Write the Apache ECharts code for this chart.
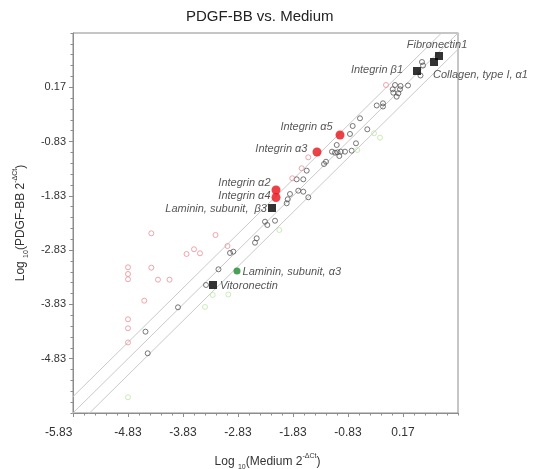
<!DOCTYPE html>
<html>
<head>
<meta charset="utf-8">
<script src="https://cdn.jsdelivr.net/npm/echarts@6/dist/echarts.min.js"></script>
<style>
  html, body { margin: 0; padding: 0; background: #fff; }
  #chart { width: 541px; height: 469px; }
</style>
</head>
<body>
<div id="chart"></div>
<script>
// axis ticks (log10 2^-dCt)
const axisMin = -5.83;
const axisMax = 1.17;
const tickValues = [-4.83, -3.83, -2.83, -1.83, -0.83, 0.17];
const foldLine = 0.301; // log10(2) boundaries

// open gray circles: no change
const unchangedPoints = [
  [0.515, 0.636], [0.534, 0.571], [0.488, 0.387], [0.025, 0.212], [0.125, 0.194],
  [0.261, 0.203], [-0.017, 0.133], [0.115, 0.133], [-0.006, 0.070], [0.085, 0.059],
  [0.055, -0.003], [-0.194, -0.125], [-0.308, -0.165], [-0.194, -0.184], [-0.612, -0.401],
  [-0.745, -0.543], [-0.479, -0.604], [-0.794, -0.690], [-0.685, -0.862], [-1.035, -0.893],
  [-1.121, -1.016], [-1.066, -1.035], [-1.021, -1.028], [-0.963, -1.016], [-0.885, -1.016],
  [-0.763, -0.998], [-0.988, -1.096], [-1.230, -1.201], [-1.266, -1.243], [-1.581, -1.366],
  [-1.643, -1.525], [-1.763, -1.525], [-1.885, -1.796], [-1.734, -1.735], [-1.643, -1.753],
  [-1.552, -1.856], [-1.926, -1.893], [-1.945, -1.967], [-2.157, -2.288], [-2.339, -2.306],
  [-2.297, -2.367], [-2.490, -2.612], [-2.521, -2.693], [-2.915, -2.858], [-2.975, -2.882],
  [-3.185, -3.183], [-3.412, -3.472], [-3.921, -3.883], [-4.512, -4.332], [-4.472, -4.730]
];

// open pink circles: up-regulated, unlabelled
const upPoints = [
  [-0.139, 0.212], [-1.552, -1.120], [-1.672, -1.322], [-1.843, -1.506], [-4.406, -2.520],
  [-3.239, -2.551], [-3.021, -2.754], [-3.630, -2.814], [-3.521, -2.888], [-3.766, -2.901],
  [-4.83, -3.146], [-4.83, -3.269], [-4.83, -3.367], [-4.406, -3.153], [-4.285, -3.374],
  [-4.075, -3.374], [-4.534, -3.761], [-4.83, -4.104], [-4.83, -4.269], [-4.83, -4.531]
];

// open light green circles: down-regulated, unlabelled
const downPoints = [
  [-0.661, -0.985], [-0.357, -0.677], [-0.248, -0.759], [-2.079, -2.459], [-3.290, -3.656],
  [-3.006, -3.647], [-3.430, -3.877], [-4.83, -5.540]
];

// labelled genes
const upGenes = ['Integrin α5', 'Integrin α3', 'Integrin α2', 'Integrin α4'];
const upValues = [[-0.975, -0.709], [-1.394, -1.022], [-2.139, -1.722], [-2.139, -1.860]];

const downGenes = ['Laminin, subunit, α3'];
const downValues = [[-2.848, -3.214]];

const keyGenes = ['Fibronectin1', 'Collagen, type I, α1', 'Integrin β1', 'Laminin, subunit,  β3', 'Vitoronectin'];
const keyValues = [[0.825, 0.746], [0.734, 0.636], [0.425, 0.470], [-2.212, -2.054], [-3.285, -3.472]];

const FONT = '"Liberation Sans", Arial, sans-serif';

// label placement per gene
const labelPlace = {
  'Integrin α5': { position: 'left', distance: 3, offset: [0, -8] },
  'Integrin α3': { position: 'left', distance: 5, offset: [0, -3] },
  'Integrin α2': { position: 'left', distance: 1, offset: [0, -7] },
  'Integrin α4': { position: 'left', distance: 1, offset: [0, -2] },
  'Laminin, subunit, α3': { position: 'right', distance: 2, offset: [0, 1] },
  'Fibronectin1': { position: 'top', distance: 2, offset: [-2, 0] },
  'Collagen, type I, α1': { position: 'right', distance: 5, offset: [-10, 13] },
  'Integrin β1': { position: 'left', distance: 10, offset: [0, -1] },
  'Laminin, subunit,  β3': { position: 'left', distance: 1, offset: [0, 1] },
  'Vitoronectin': { position: 'right', distance: 3, offset: [0, 1] }
};

const withLabels = (names, values) => names.map((n, i) => ({
  name: n,
  value: values[i],
  label: Object.assign({
    show: true,
    formatter: '{b}',
    fontStyle: 'italic',
    fontSize: 11,
    color: '#2a2a2a',
    fontFamily: FONT
  }, labelPlace[n])
}));

// minor ticks every 0.2
const minorTicks = [];
for (let v = axisMin; v <= axisMax + 1e-6; v += 0.2) minorTicks.push(+v.toFixed(2));

const refLine = (d) => ({
  type: 'line',
  data: [[axisMin - 1, axisMin - 1 + d], [axisMax + 1, axisMax + 1 + d]],
  symbol: 'none',
  silent: true,
  z: 1,
  lineStyle: { color: '#c9c9c9', width: 1 },
  clip: true
});

const chart = echarts.init(document.getElementById('chart'));

const axisNameRich = {
  a: { fontSize: 12, color: '#333', fontFamily: FONT, lineHeight: 18 },
  s: { fontSize: 7, color: '#333', fontFamily: FONT, verticalAlign: 'bottom', lineHeight: 18 },
  p: { fontSize: 7, color: '#333', fontFamily: FONT, verticalAlign: 'top', lineHeight: 18 }
};

const fmt = (v) => (+v).toFixed(2);
const AXIS_GRAY = '#8c8c8c';

const option = {
  animation: false,
  backgroundColor: '#fff',
  title: {
    text: 'PDGF-BB vs. Medium',
    left: 181,
    top: 4,
    textStyle: { fontSize: 15, fontWeight: 'normal', color: '#222', fontFamily: FONT }
  },
  grid: {
    left: 73, top: 33, width: 385, height: 380,
    outerBoundsMode: 'none',
    containLabel: false,
    show: true, borderColor: AXIS_GRAY, borderWidth: 1
  },
  xAxis: [
    {
      type: 'value',
      min: axisMin, max: axisMax,
      position: 'bottom',
      name: '{a|Log }{s|10}{a|(Medium 2}{p|-ΔCt}{a|)}',
      nameLocation: 'middle',
      nameGap: 40,
      nameTextStyle: { rich: axisNameRich, padding: [0, 0, 0, 4] },
      axisLine: { onZero: false, lineStyle: { color: AXIS_GRAY } },
      axisTick: { customValues: [axisMin].concat(tickValues), length: 4, lineStyle: { color: AXIS_GRAY } },
      axisLabel: {
        customValues: [axisMin].concat(tickValues),
        margin: 14,
        fontSize: 12,
        color: '#333',
        fontFamily: FONT,
        formatter: (v) => Math.abs(v - axisMin) < 1e-6 ? '{c|' + fmt(v) + '}' : fmt(v),
        rich: { c: { width: 56, align: 'left', fontSize: 12, color: '#333', fontFamily: FONT, padding: [0, 0, 3, 0] } }
      },
      splitLine: { show: false }
    },
    {
      type: 'value',
      min: axisMin, max: axisMax,
      position: 'bottom',
      axisLine: { show: false, onZero: false },
      axisTick: { customValues: minorTicks, length: 2.5, lineStyle: { color: AXIS_GRAY } },
      axisLabel: { show: false },
      splitLine: { show: false }
    }
  ],
  yAxis: [
    {
      type: 'value',
      min: axisMin, max: axisMax,
      position: 'left',
      name: '{a|Log }{s|10}{a|(PDGF-BB 2}{p|-ΔCt}{a|)}',
      nameLocation: 'middle',
      nameGap: 43,
      nameTextStyle: { rich: axisNameRich },
      axisLine: { onZero: false, lineStyle: { color: AXIS_GRAY } },
      axisTick: { customValues: tickValues, length: 4, lineStyle: { color: AXIS_GRAY } },
      axisLabel: {
        customValues: tickValues,
        margin: 7,
        fontSize: 11,
        color: '#333',
        fontFamily: FONT,
        formatter: fmt
      },
      splitLine: { show: false }
    },
    {
      type: 'value',
      min: axisMin, max: axisMax,
      position: 'left',
      axisLine: { show: false, onZero: false },
      axisTick: { customValues: minorTicks, length: 2.5, lineStyle: { color: AXIS_GRAY } },
      axisLabel: { show: false },
      splitLine: { show: false }
    }
  ],
  series: [
    refLine(foldLine),
    refLine(0),
    refLine(-foldLine),
    {
      type: 'scatter', name: 'unchanged', data: unchangedPoints,
      symbol: 'circle', symbolSize: 5, z: 3,
      itemStyle: { color: 'rgba(255,255,255,0)', borderColor: '#555', borderWidth: 1 }
    },
    {
      type: 'scatter', name: 'up', data: upPoints,
      symbol: 'circle', symbolSize: 5, z: 3,
      itemStyle: { color: 'rgba(255,255,255,0)', borderColor: '#ec8f99', borderWidth: 1 }
    },
    {
      type: 'scatter', name: 'down', data: downPoints,
      symbol: 'circle', symbolSize: 5, z: 3,
      itemStyle: { color: 'rgba(255,255,255,0)', borderColor: '#bfe6a6', borderWidth: 1 }
    },
    {
      type: 'scatter', name: 'up labelled', data: withLabels(upGenes, upValues),
      symbol: 'circle', symbolSize: 9, z: 4,
      itemStyle: { color: '#e8111a' }
    },
    {
      type: 'scatter', name: 'down labelled', data: withLabels(downGenes, downValues),
      symbol: 'circle', symbolSize: 7, z: 4,
      itemStyle: { color: '#1b8a2e' }
    },
    {
      type: 'scatter', name: 'key genes', data: withLabels(keyGenes, keyValues),
      symbol: 'rect', symbolSize: 8, z: 5,
      itemStyle: { color: '#000' }
    }
  ]
};

chart.setOption(option);
</script>
</body>
</html>
